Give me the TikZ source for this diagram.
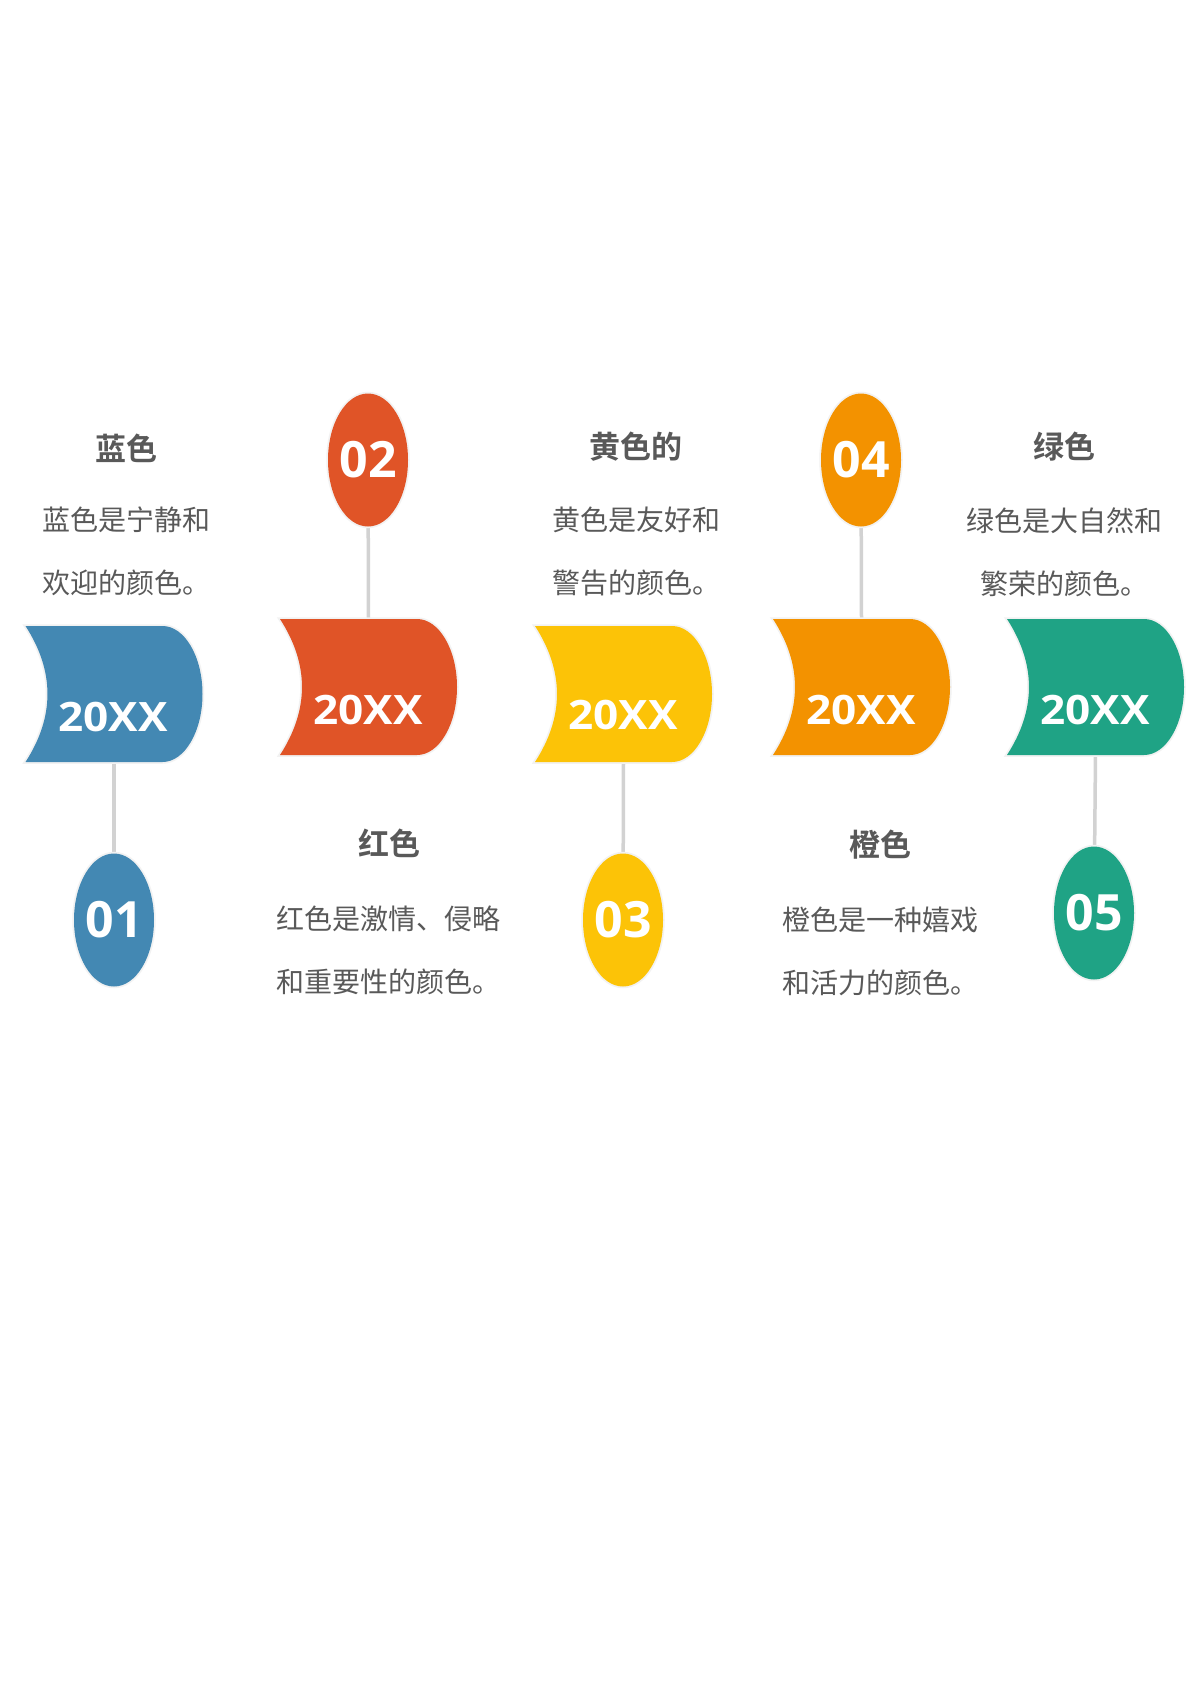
\documentclass[tikz,border=0pt]{standalone}
\usepackage{fontspec}
\usetikzlibrary{shapes.geometric}
\newfontfamily\cjk{Noto Sans CJK SC}[BoldFont={Noto Sans CJK SC Bold}]
\newfontfamily\numfont{Open Sans}[BoldFont={Open Sans Bold}]
\newfontfamily\yearfont{Open Sans Bold}[FakeStretch=1.09]
\definecolor{cblue}{RGB}{67,136,179}
\definecolor{cred}{RGB}{224,84,39}
\definecolor{cyellow}{RGB}{252,195,7}
\definecolor{corange}{RGB}{243,146,0}
\definecolor{cgreen}{RGB}{31,163,133}
\definecolor{ctext}{RGB}{89,89,89}
\definecolor{cconn}{RGB}{210,210,210}
\tikzset{
  x=1pt, y=1pt,
  halo/.style={preaction={draw=black!5, line width=3.5pt}},
  holder/.style={rectangle, minimum width=177pt, minimum height=136pt, inner sep=0pt, outer sep=0pt},
  yeartext/.style={text=white, font={\yearfont\fontsize{40.5}{40}\selectfont}, inner sep=0pt},
  bubble/.style={ellipse, minimum width=80pt, minimum height=133pt, inner sep=0pt, outer sep=0pt, text=white,
    font={\numfont\bfseries\fontsize{50}{50}\selectfont}, halo},
  title/.style={text=ctext, font={\cjk\bfseries\fontsize{31}{31}\selectfont}, inner sep=0pt},
  body/.style={text=ctext, align=center, font={\cjk\fontsize{28}{63}\selectfont}, inner sep=0pt},
  conn/.style={draw=cconn, line width=3.5pt}
}
% ribbon shape drawn relative to a holder node
\newcommand{\ribbonshape}[2]{%
  \path[fill=#2, halo] (#1.north west) -- ++(137,0)
    arc[start angle=90, end angle=-90, x radius=40, y radius=68]
    -- ++(-137,0)
    .. controls +(29.3,45.3) and +(29.3,-45.3) .. (#1.north west) -- cycle;}
\begin{document}
\begin{tikzpicture}
\useasboundingbox (0,0) rectangle (1191,-1684);
\fill[white] (0,0) rectangle (1191,-1684);

% holders for the ribbon shapes
\node[holder] (s1) at (114,-694) {};
\node[holder] (s2) at (368.5,-687) {};
\node[holder] (s3) at (623.5,-694) {};
\node[holder] (s4) at (861.5,-687) {};
\node[holder] (s5) at (1095.5,-687) {};

% connectors (behind)
\path (114,-920) coordinate (p1) (368,-460) coordinate (p2) (623,-920) coordinate (p3)
      (861,-460) coordinate (p4) (1094,-913) coordinate (p5);
\draw[conn] (s1.south) -- (p1);
\draw[conn] (s2.north) -- (p2);
\draw[conn] (s3.south) -- (p3);
\draw[conn] (s4.north) -- (p4);
\draw[conn] (s5.south) -- (p5);

\ribbonshape{s1}{cblue}
\ribbonshape{s2}{cred}
\ribbonshape{s3}{cyellow}
\ribbonshape{s4}{corange}
\ribbonshape{s5}{cgreen}

\node[yeartext] (y1) at (113,-717) {20XX};
\node[yeartext] (y2) at (368,-710) {20XX};
\node[yeartext] (y3) at (623,-715) {20XX};
\node[yeartext] (y4) at (861,-710) {20XX};
\node[yeartext] (y5) at (1095,-710) {20XX};

\node[bubble, fill=cblue] (e1) at (p1) {\makebox[0pt]{01}};
\node[bubble, fill=cred] (e2) at (p2) {\makebox[0pt]{02}};
\node[bubble, fill=cyellow] (e3) at (p3) {\makebox[0pt]{03}};
\node[bubble, fill=corange] (e4) at (p4) {\makebox[0pt]{04}};
\node[bubble, fill=cgreen] (e5) at (p5) {\makebox[0pt]{05}};

\node[title] (t1) at (126,-448) {蓝色};
\node[title] (t2) at (389,-843) {红色};
\node[title] (t3) at (636,-447) {黄色的};
\node[title] (t4) at (880,-845) {橙色};
\node[title] (t5) at (1064,-447) {绿色};

\node[body] (b1) at (126,-551.5) {蓝色是宁静和\\欢迎的颜色。};
\node[body] (b2) at (388.5,-950) {红色是激情、侵略\\和重要性的颜色。};
\node[body] (b3) at (636,-551.5) {黄色是友好和\\警告的颜色。};
\node[body] (b4) at (880.5,-951.5) {橙色是一种嬉戏\\和活力的颜色。};
\node[body] (b5) at (1064,-552) {绿色是大自然和\\繁荣的颜色。};
\end{tikzpicture}
\end{document}
